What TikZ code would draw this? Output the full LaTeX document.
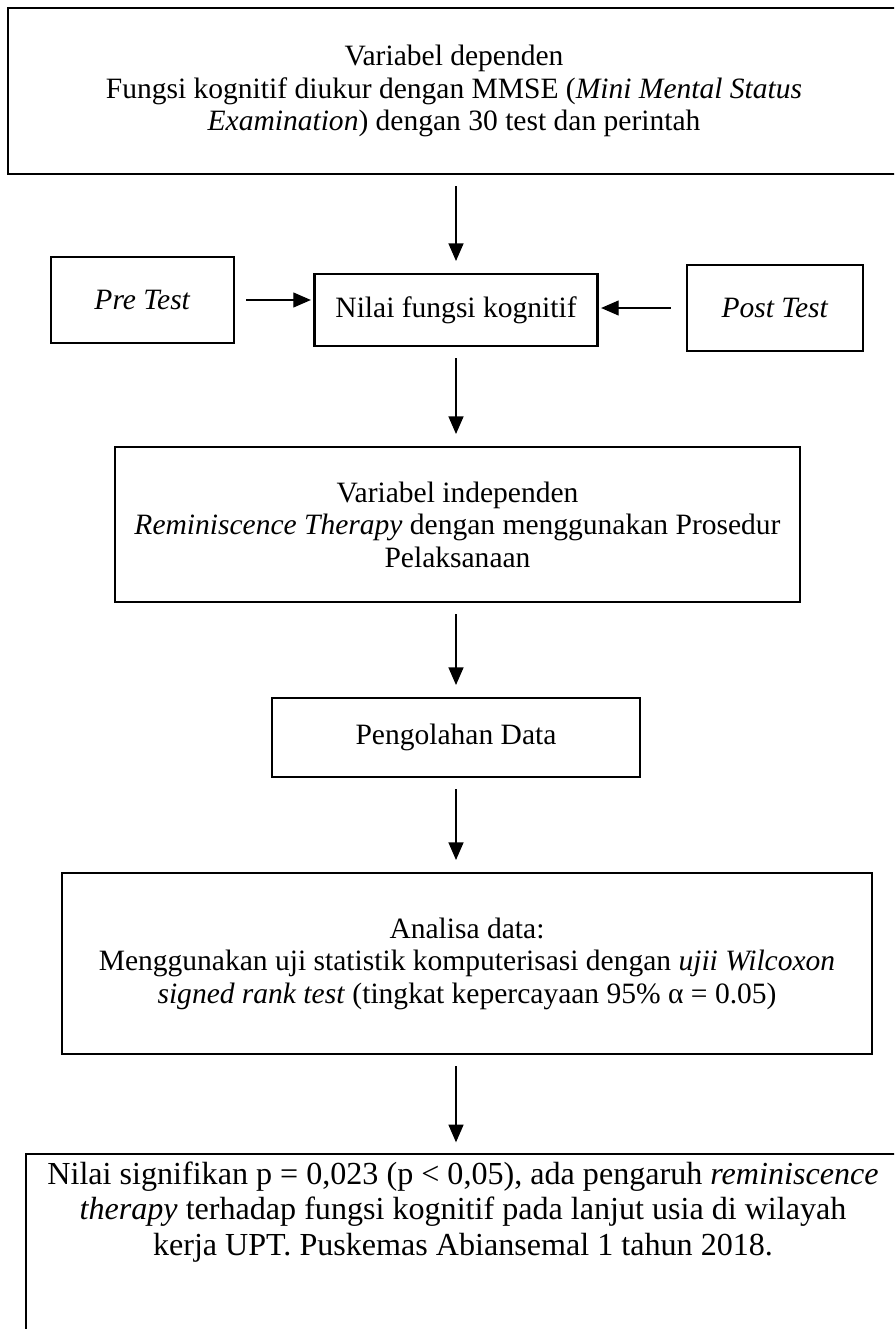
\documentclass[tikz,border=0pt]{standalone}
\usepackage{fontspec}
\setmainfont{Liberation Serif}
\usepackage{tikz}
\usetikzlibrary{arrows.meta,positioning,calc}

\begin{document}
\begin{tikzpicture}[x=0.015cm,y=-0.015cm,
  kotak/.style={draw,line width=1.1pt,align=center,inner sep=0pt,
    font=\fontsize{12.6}{13.9}\selectfont},
  panah/.style={line width=0.5pt,-{Triangle[width=6.4pt,length=7.5pt]},
    shorten <=4.7pt,shorten >=5pt}]
  \useasboundingbox (0,0) rectangle (894,1329);
  \clip (0,0) rectangle (894,1329);
  % variabel dependen
  \node[kotak,minimum width=13.38cm,minimum height=2.49cm] (dep) at (454,91)
    {Variabel dependen\\Fungsi kognitif diukur dengan MMSE (\textit{Mini Mental Status}\\\textit{Examination}) dengan 30 test dan perintah};
  % pre / nilai / post
  \node[kotak,minimum width=2.745cm,minimum height=1.29cm] (pre) at (142.5,300) {\textit{Pre Test}};
  \node[kotak,minimum width=4.245cm,minimum height=1.08cm] (nilai) at (456,310) {Nilai fungsi kognitif};
  \node[kotak,minimum width=2.64cm,minimum height=1.29cm] (post) at (775,308) {\textit{Post Test}};
  % variabel independen
  \node[kotak,minimum width=10.275cm,minimum height=2.325cm] (indep) at (457.5,524.5)
    {Variabel independen\\\textit{Reminiscence Therapy} dengan menggunakan Prosedur\\Pelaksanaan};
  \node[kotak,minimum width=5.52cm,minimum height=1.185cm] (olah) at (456,737.5) {Pengolahan Data};
  % analisa
  \node[kotak,minimum width=12.15cm,minimum height=2.715cm] (analisa) at (467,963.5)
    {Analisa data:\\Menggunakan uji statistik komputerisasi dengan \textit{ujii Wilcoxon}\\\textit{signed rank test} (tingkat kepercayaan 95\% α = 0.05)};
  % hasil (kotak terpotong di bawah)
  \draw[line width=1.1pt] (26,1154) rectangle (920,1400);
  \coordinate (hasiltop) at (456,1154);
  \node[align=center,inner sep=0pt,font=\fontsize{13.7}{15}\selectfont] (hasil) at (463,1212)
    {Nilai signifikan p = 0,023 (p < 0,05), ada pengaruh \textit{reminiscence}\\\textit{therapy} terhadap fungsi kognitif pada lanjut usia di wilayah\\kerja UPT. Puskemas Abiansemal 1 tahun 2018.};
  % panah
  \draw[panah] (nilai.north |- dep.south) -- (nilai.north);
  \draw[panah,shorten >=1pt] (pre.east) -- (pre.east -| nilai.west);
  \draw[panah,shorten <=6.4pt,shorten >=1pt] (post.west) -- (post.west -| nilai.east);
  \draw[panah] (nilai.south) -- (nilai.south |- indep.north);
  \draw[panah] (nilai.south |- indep.south) -- (olah.north);
  \draw[panah] (olah.south) -- (olah.south |- analisa.north);
  \draw[panah] (olah.south |- analisa.south) -- (hasiltop);
\end{tikzpicture}
\end{document}
